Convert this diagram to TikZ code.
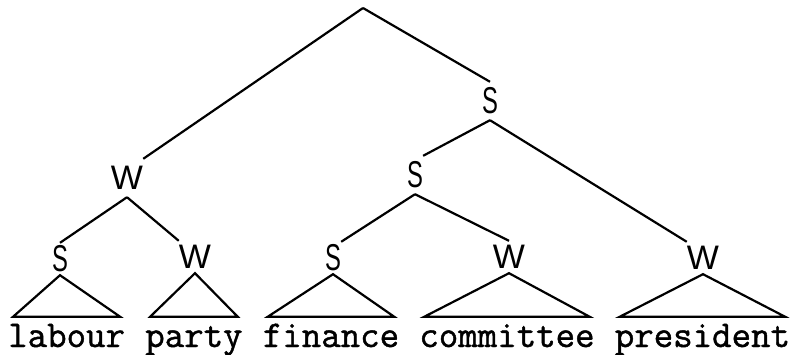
\documentclass[tikz,border=0pt]{standalone}
\usepackage{fontspec}
\newfontfamily\labelfont{Liberation Sans}
\newfontfamily\wordfont[FakeBold=1.2]{Latin Modern Mono}
\usetikzlibrary{positioning}
\tikzset{
  lbl/.style={inner sep=0pt, minimum height=38pt, font=\labelfont\fontsize{34}{34}\selectfont},
  leaf/.style={lbl, minimum height=32pt},
  word/.style={inner sep=0pt, text height=30pt, text depth=8pt, font=\wordfont\fontsize{37.8}{40}\selectfont},
  branch/.style={line width=2.2pt}
}
\newcommand{\narrowS}{\scalebox{0.7}[1.1]{S}}

\begin{document}
\begin{tikzpicture}[x=1pt, y=-1pt, node distance=19.85pt]
\useasboundingbox (0,0) rectangle (802,354);
% labels
\coordinate (top) at (363,8);
\node[lbl] (sright) at (490,101) {\narrowS};
\node[lbl] (wleft) at (127,178) {W};
\node[lbl] (smid) at (415,175) {\narrowS};
\node[leaf] (slabour) at (60,259) {\narrowS};
\node[leaf] (wparty) at (195,257) {W};
\node[leaf] (sfinance) at (333,258) {\narrowS};
\node[leaf] (wcommittee) at (509,257) {W};
\node[leaf] (wpresident) at (703,258) {W};
% words
\node[word, anchor=base west] (labour) at (8,347) {labour};
\node[word, right=of labour] (party) {party};
\node[word, right=of party] (finance) {finance};
\node[word, right=of finance] (committee) {committee};
\node[word, right=of committee] (president) {president};
% branches
\draw[branch] (top) -- (sright.north);
\draw[branch] (top) -- (wleft.north east);
\draw[branch] (sright.south) -- (smid.north east);
\draw[branch] (sright.south) -- (wpresident.north west);
\draw[branch] (wleft.south) -- (slabour.north);
\draw[branch] (wleft.south) -- (wparty.north west);
\draw[branch] (smid.south) -- (sfinance.north east);
\draw[branch] (smid.south) -- (wcommittee.north);
% triangles
\draw[branch] (slabour.south) -- ([xshift=5pt]labour.north west) -- ([xshift=-5pt]labour.north east) -- cycle;
\draw[branch] (wparty.south) -- ([xshift=5pt]party.north west) -- ([xshift=-5pt]party.north east) -- cycle;
\draw[branch] (sfinance.south) -- ([xshift=5pt]finance.north west) -- ([xshift=-5pt]finance.north east) -- cycle;
\draw[branch] (wcommittee.south) -- ([xshift=5pt]committee.north west) -- ([xshift=-5pt]committee.north east) -- cycle;
\draw[branch] (wpresident.south) -- ([xshift=5pt]president.north west) -- ([xshift=-5pt]president.north east) -- cycle;
\end{tikzpicture}
\end{document}
